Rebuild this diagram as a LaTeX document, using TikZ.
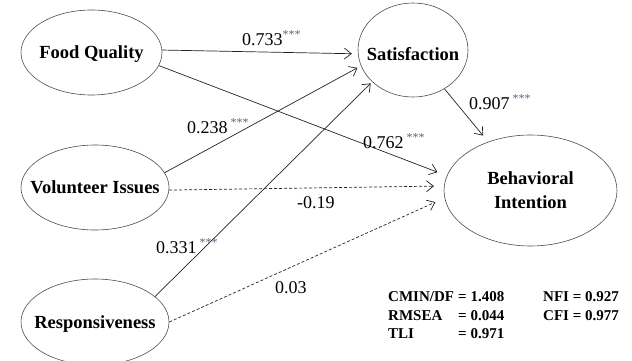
\documentclass[tikz,border=0pt]{standalone}
\usepackage{fontspec}
\setmainfont{Liberation Serif}
\usetikzlibrary{arrows.meta,shapes.geometric}
\definecolor{starc}{RGB}{95,95,125}
\definecolor{linec}{RGB}{35,35,35}
\newcommand\sigstars{\raisebox{6.5pt}{\textcolor{starc}{\fontsize{12}{12}\selectfont ***}}}
\begin{document}
\begin{tikzpicture}[x=1pt,y=-1pt,
  latent/.style={ellipse,draw=black!70,line width=0.6pt,inner xsep=-30pt,inner ysep=-20pt,
    text depth=0pt,font=\fontsize{18.5}{24}\selectfont\bfseries,align=center},
  causal/.style={draw=linec,line width=0.7pt,-{Straight Barb[length=7pt,width=11pt]}},
  nsig/.style={causal,dash pattern=on 3pt off 2pt},
  coef/.style={anchor=base west,inner sep=0pt,font=\fontsize{18}{18}\selectfont},
  fitstat/.style={anchor=base west,inner sep=0pt,font=\fontsize{15}{15}\selectfont\bfseries}]
\useasboundingbox (0,0) rectangle (632,361);
% latent variables
\node[latent,minimum width=141pt,minimum height=85pt] (fq) at (91.5,52.5) {Food Quality};
\node[latent,minimum width=148pt,minimum height=85pt] (vi) at (95,187.5) {Volunteer Issues};
\node[latent,minimum width=148pt,minimum height=86pt] (rs) at (95,322) {Responsiveness};
\node[latent,minimum width=110pt,minimum height=94pt,text height=20pt] (sat) at (413,50) {Satisfaction};
\node[latent,minimum width=173pt,minimum height=111pt] (bi) at (530.5,190.5) {Behavioral\\Intention};
% paths
\draw[causal,shorten >=6pt] (fq.2) -- (sat.184);
\draw[causal,shorten >=10pt] (fq.-11) -- (bi.170);
\draw[causal,shorten >=4pt] (vi.12) -- (sat.197);
\draw[nsig,shorten >=10pt] (vi.-2) -- (bi.177);
\draw[causal,shorten >=2pt] (rs.23) -- (sat.218);
\draw[nsig,shorten >=10pt] (rs.0) -- (bi.185);
\draw[causal,shorten >=8pt] (sat.-51) -- (bi.131);
% coefficients
\node[coef] (c1) at (242,45.5) {0.733\sigstars};
\node[coef] (c2) at (187,133) {0.238\,\sigstars};
\node[coef] (c3) at (363,148) {0.762\,\sigstars};
\node[coef] (c4) at (297,208) {-0.19};
\node[coef] (c5) at (156,253) {0.331\,\sigstars};
\node[coef] (c6) at (275,293) {0.03};
\node[coef] (c7) at (469,109) {0.907\,\sigstars};
% fit statistics
\node[fitstat] (s1) at (388,301.5) {CMIN/DF};
\node[fitstat] (s2) at (458,301.5) {= 1.408};
\node[fitstat] (s3) at (388,320) {RMSEA};
\node[fitstat] (s4) at (458,320) {= 0.044};
\node[fitstat] (s5) at (388,338.5) {TLI};
\node[fitstat] (s6) at (458,338.5) {= 0.971};
\node[fitstat] (s7) at (543,301.5) {NFI = 0.927};
\node[fitstat] (s8) at (543,320) {CFI = 0.977};
\end{tikzpicture}
\end{document}
